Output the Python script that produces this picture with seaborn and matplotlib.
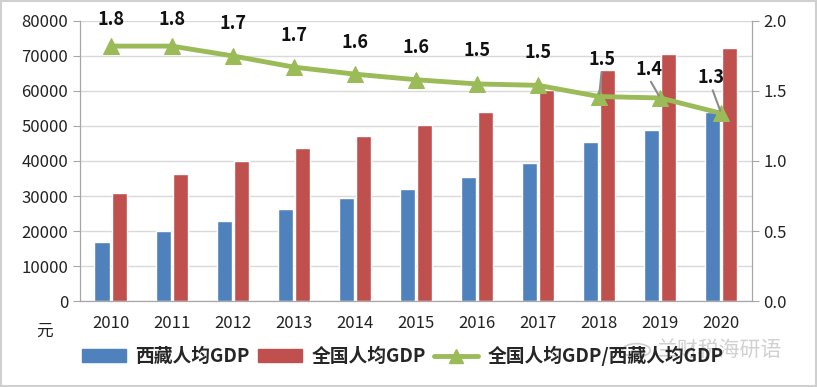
import numpy as np
import pandas as pd
import seaborn as sns
from matplotlib import pyplot as plt
from matplotlib.patches import Patch, Circle
from matplotlib.lines import Line2D

years = ['2010', '2011', '2012', '2013', '2014', '2015', '2016', '2017', '2018', '2019', '2020']
tibet_gdp = [16900, 20000, 22900, 26300, 29300, 32100, 35300, 39300, 45300, 48900, 54000]
china_gdp = [30800, 36300, 39900, 43700, 47200, 50300, 54100, 60200, 66000, 70600, 72400]
ratio = [1.82, 1.82, 1.75, 1.67, 1.62, 1.58, 1.55, 1.54, 1.46, 1.45, 1.34]
ratio_labels = ['1.8', '1.8', '1.7', '1.7', '1.6', '1.6', '1.5', '1.5', '1.5', '1.4', '1.3']

sns.set_style('white')
plt.rcParams['font.family'] = ['Noto Sans CJK SC', 'DejaVu Sans']

blue = '#4F81BD'
red = '#C0504D'
green = '#9BBB59'

df = pd.DataFrame({'year': years * 2,
                   'gdp': tibet_gdp + china_gdp,
                   'series': ['西藏人均GDP'] * 11 + ['全国人均GDP'] * 11})

fig = plt.figure(figsize=(8.18, 3.87), dpi=100)
ax = fig.add_axes([0.098, 0.222, 0.821, 0.724])
sns.barplot(data=df, x='year', y='gdp', hue='series', palette=[blue, red],
            width=0.56, gap=0.1, ax=ax, legend=False, saturation=1)
ax.set_ylim(0, 80000)
ax.set_xlim(-0.5, 10.5)
ax.set_yticks(np.arange(0, 80001, 10000))
ax.yaxis.grid(True, color='#D9D9D9', lw=1)
ax.set_axisbelow(True)
ax.set_xlabel('')
ax.set_ylabel('')
ax.spines['top'].set_visible(False)
for s in ['left', 'bottom', 'right']:
    ax.spines[s].set_color('#A6A6A6')
ax.tick_params(axis='y', length=5, color='#A6A6A6', labelsize=12, labelcolor='#222222', direction='out', left=True)
ax.tick_params(axis='x', length=0, labelsize=12, labelcolor='#222222', pad=10)

ax2 = ax.twinx()
sns.lineplot(x=np.arange(11), y=ratio, color=green, lw=3.5, marker='^', markersize=12,
             markeredgecolor=green, ax=ax2)
ax2.set_ylim(0, 2.0)
ax2.set_yticks(np.arange(0, 2.01, 0.5))
ax2.set_yticklabels(['%.1f' % v for v in np.arange(0, 2.01, 0.5)])
ax2.spines['top'].set_visible(False)
for s in ['left', 'bottom', 'right']:
    ax2.spines[s].set_color('#A6A6A6')
ax2.tick_params(axis='y', length=5, color='#A6A6A6', labelsize=12, labelcolor='#222222', direction='out', right=True)

# data labels above the points
offsets = [(0, 19.5), (0, 19.5), (0, 23), (0, 22.5), (0, 23), (0, 23.5), (0, 24), (0, 23.5)]
for i, (dx, dy) in enumerate(offsets):
    ax2.annotate(ratio_labels[i], xy=(i, ratio[i]), xytext=(dx, dy), textcoords='offset points',
                 ha='center', va='center', fontsize=13, fontweight='bold', color='#111111')

# last three labels pulled off with grey leader lines
leader_offsets = [(2, 20), (-8, 14), (-7, 19)]
for k, (dx, dy) in enumerate(leader_offsets):
    i = 8 + k
    ax2.annotate(ratio_labels[i], xy=(i, ratio[i]), xytext=(dx, dy), textcoords='offset points',
                 ha='center', va='bottom', fontsize=13, fontweight='bold', color='#111111', zorder=5,
                 arrowprops=dict(arrowstyle='-', color='#8C8C8C', lw=1.5, shrinkA=0, shrinkB=2,
                                 relpos=(0.5, 0.0)))

fig.text(0.055, 0.145, '元', fontsize=12, color='#222222', ha='center', va='center')

handles = [Patch(color=blue), Patch(color=red),
           Line2D([0], [0], color=green, lw=3.5, marker='^', markersize=10)]
labels = ['西藏人均GDP', '全国人均GDP', '全国人均GDP/西藏人均GDP']
fig.legend(handles, labels, loc='center left', bbox_to_anchor=(0.1, 0.08), ncol=3, frameon=False,
           prop={'size': 13.5, 'weight': 'bold'}, handlelength=2.35, handleheight=0.72,
           columnspacing=0.45, handletextpad=0.5, borderaxespad=0, borderpad=0)

# watermark
fig.text(0.88, 0.095, '兰财税海研语', fontsize=15, color='#C8C8C8', ha='center', va='center', alpha=0.85)
fig.patches.append(Circle((0.778, 0.095), 0.017, transform=fig.transFigure, fill=False,
                          edgecolor='#D0D0D0', lw=1.2))

fig.patches.append(plt.Rectangle((0.001, 0.003), 0.997, 0.994, transform=fig.transFigure,
                                 fill=False, edgecolor='#D0D0D0', lw=1.5))
fig.savefig('out.png', dpi=100)
